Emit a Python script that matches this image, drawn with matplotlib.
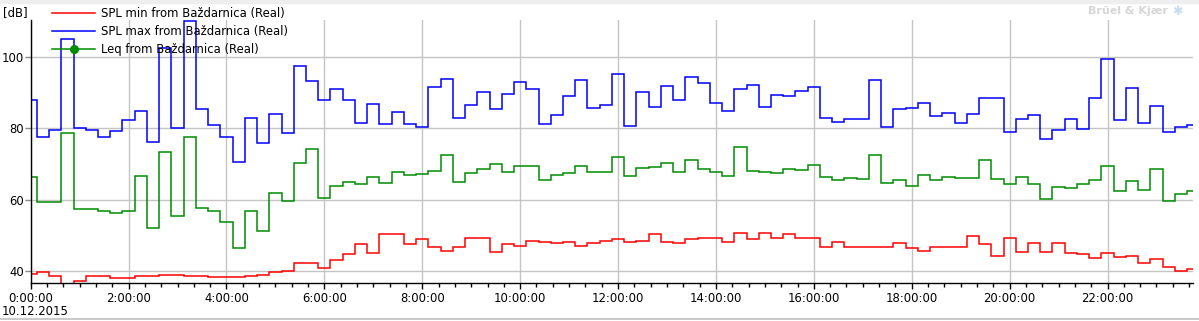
import numpy as np
import matplotlib
matplotlib.use('Agg')
import matplotlib.pyplot as plt
from matplotlib.lines import Line2D
from matplotlib.legend_handler import HandlerLine2D
from matplotlib.ticker import MultipleLocator, FuncFormatter

# 15-minute intervals, first and last partly cut by the axis
FIRST_EDGE = 0.125   # hours
STEP = 0.25          # hours
X_END = 23.74        # hours

spl_min = [39.2, 39.7, 38.6, 36.0, 37.2, 38.6, 38.6, 38.1, 38.1, 38.6,
           38.6, 38.9, 38.9, 38.6, 38.6, 38.3, 38.3, 38.3, 38.6, 38.9,
           39.7, 40.0, 42.2, 42.2, 40.8, 43.1, 44.7, 47.5, 45.0, 50.3,
           50.3, 47.5, 48.9, 46.7, 45.6, 46.9, 49.4, 49.2, 45.3, 47.5,
           47.2, 48.6, 48.1, 47.8, 48.1, 47.2, 47.8, 48.6, 48.9, 48.3,
           48.6, 50.3, 48.3, 47.8, 48.9, 49.2, 49.2, 48.1, 50.8, 48.9,
           50.6, 49.2, 50.3, 49.4, 49.4, 46.7, 48.3, 46.7, 46.7, 46.7,
           46.7, 47.8, 46.4, 45.8, 46.7, 46.9, 46.7, 50.0, 47.5, 44.2,
           49.4, 45.3, 47.8, 45.3, 47.8, 45.0, 44.7, 43.6, 45.0, 43.9,
           44.2, 42.2, 43.3, 41.1, 40.0, 40.6]

spl_max = [87.9, 77.5, 79.5, 104.9, 80.0, 79.5, 77.7, 79.2, 82.4, 84.9,
           76.3, 102.4, 80.0, 110.0, 85.4, 80.8, 77.7, 70.6, 82.8, 75.8,
           84.0, 78.6, 97.5, 93.3, 87.9, 91.0, 87.9, 81.4, 86.8, 81.1,
           84.5, 81.1, 80.3, 91.6, 93.9, 82.8, 86.5, 90.2, 85.4, 89.6,
           93.0, 91.0, 81.1, 83.7, 89.1, 93.6, 85.7, 86.5, 95.3, 80.6,
           90.2, 85.9, 91.9, 87.9, 94.4, 92.7, 87.1, 84.8, 91.0, 92.2,
           85.9, 89.3, 89.1, 90.5, 91.6, 82.8, 81.7, 82.5, 82.5, 93.6,
           80.3, 85.4, 85.7, 87.1, 83.4, 84.2, 81.4, 84.0, 88.5, 88.5,
           78.9, 82.5, 83.7, 76.9, 79.4, 82.5, 79.7, 88.5, 99.5, 82.3,
           91.3, 81.4, 86.2, 78.9, 80.3, 80.8]

leq = [66.5, 59.4, 59.4, 78.6, 57.5, 57.5, 56.9, 56.4, 56.9, 66.7,
       52.2, 73.5, 55.6, 77.5, 57.8, 56.9, 53.9, 46.4, 56.9, 51.4,
       61.9, 59.7, 70.3, 74.1, 60.6, 63.9, 65.0, 64.4, 66.4, 64.7,
       67.8, 66.9, 67.2, 68.1, 72.4, 65.0, 67.5, 68.6, 70.0, 67.8,
       69.4, 69.4, 65.6, 66.9, 67.5, 69.4, 67.8, 67.8, 72.1, 66.7,
       68.9, 69.1, 70.3, 67.8, 71.1, 68.6, 67.8, 66.7, 74.9, 68.1,
       67.8, 67.5, 68.6, 68.3, 69.7, 66.4, 65.6, 66.1, 65.8, 72.6,
       64.7, 65.6, 63.9, 66.9, 65.6, 66.4, 66.1, 66.1, 71.2, 65.8,
       64.4, 66.4, 64.4, 60.3, 63.6, 63.3, 64.4, 65.6, 69.4, 62.5,
       65.3, 62.8, 68.6, 59.7, 61.7, 62.5]

labels = ['SPL min from Baždarnica (Real)',
          'SPL max from Baždarnica (Real)',
          'Leq from Baždarnica (Real)']
colors = ['#ff0000', '#0000ff', '#008c00']

W, H = 1199, 321
FS = 8.4


class LeftMarkerHandler(HandlerLine2D):
    """Legend handler that puts the marker at the left end of the line"""
    def get_xdata(self, legend, xdescent, ydescent, width, height, fontsize):
        xdata, _ = super().get_xdata(legend, xdescent, ydescent, width, height, fontsize)
        return xdata, [xdata[0] + 2]


def main():
    plt.rcParams['font.family'] = ['DejaVu Sans']
    fig = plt.figure(figsize=(W / 100, H / 100), dpi=100)
    ax = fig.add_axes([30.7 / W, 1 - 282.7 / H, (1192.7 - 30.7) / W, (282.7 - 20) / H])

    n = len(spl_min)
    edges = np.concatenate([[0.0], FIRST_EDGE + STEP * np.arange(n - 1), [X_END]])

    for vals, col in zip([spl_min, spl_max, leq], colors):
        ax.stairs(vals, edges, baseline=None, color=col, lw=1.1)

    ax.set_xlim(0, X_END)
    ax.set_ylim(36.8, 110.3)

    ax.xaxis.set_major_locator(MultipleLocator(2))
    ax.xaxis.set_minor_locator(MultipleLocator(1 / 3))
    ax.xaxis.set_major_formatter(FuncFormatter(lambda v, p: f'{int(round(v))}:00:00'))
    ax.yaxis.set_major_locator(MultipleLocator(20))

    ax.grid(True, which='major', color='#c4c4c4', lw=1.0)
    ax.set_axisbelow(True)
    for s in ['top', 'right']:
        ax.spines[s].set_visible(False)
    for s in ['left', 'bottom']:
        ax.spines[s].set_color('black')
        ax.spines[s].set_linewidth(1.0)

    ax.tick_params(axis='x', which='major', length=4, width=1, pad=3, labelsize=FS)
    ax.tick_params(axis='x', which='minor', length=3, width=1)
    ax.tick_params(axis='y', which='major', length=4, width=1, color='#888888',
                   pad=1, labelsize=FS)

    # legend (proxy handles)
    handles = [Line2D([], [], color=colors[0], lw=1.1),
               Line2D([], [], color=colors[1], lw=1.1),
               Line2D([], [], color=colors[2], lw=1.1, marker='o', ms=5.5)]
    fig.legend(handles, labels, loc='upper left',
               bbox_to_anchor=(52 / W, 1 - 7.5 / H), frameon=False,
               fontsize=FS, handlelength=3.7, handletextpad=0.5,
               labelspacing=0.42, borderpad=0, borderaxespad=0,
               handler_map={handles[2]: LeftMarkerHandler(numpoints=1)})

    # header / footer decoration
    fig.patches.append(plt.Rectangle((0, 1 - 3 / H), 1, 3 / H, transform=fig.transFigure,
                                     color='#eeeeee', zorder=0))
    fig.add_artist(Line2D([0, 1], [1 - 319 / H] * 2, transform=fig.transFigure,
                          color='#c0c0c0', lw=1.2))
    fig.text(3 / W, 1 - 6 / H, '[dB]', fontsize=FS, va='top', ha='left')
    fig.text(2 / W, 1 - 305 / H, '10.12.2015', fontsize=FS, va='top', ha='left')
    fig.text(1088 / W, 1 - 6 / H, 'Brüel & Kjær', fontsize=8, fontweight='bold',
             color='#d6d6d6', va='top', ha='left')
    fig.text(1172 / W, 1 - 5 / H, '✱', fontsize=9, color='#c8dcf0', va='top', ha='left')

    fig.savefig('out.png', dpi=100)
    plt.close(fig)


if __name__ == '__main__':
    main()
